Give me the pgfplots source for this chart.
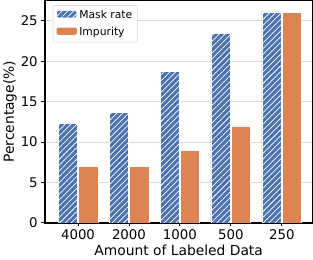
\documentclass[border=0pt]{standalone}
\usepackage{pgfplots}
\pgfplotsset{compat=1.18}
\usepackage{fontspec}
\setmainfont{DejaVu Sans}
\usetikzlibrary{patterns.meta}
\definecolor{sblue}{HTML}{4C72B0}
\definecolor{sorange}{HTML}{DD8452}
\begin{document}
\begin{tikzpicture}
\begin{axis}[
  scale only axis,
  width=260bp, height=216bp,
  xmin=-0.65, xmax=4.6,
  ymin=0, ymax=27.5,
  xtick=data,
  xticklabels={4000,2000,1000,500,250},
  ytick={0,5,10,15,20,25},
  /pgf/number format/assume math mode=true,
  ticklabel style={font=\fontsize{13}{15}\selectfont},
  label style={font=\fontsize{13.5}{15}\selectfont},
  xlabel={Amount of Labeled Data},
  ylabel={Percentage(\%)},
  xlabel style={yshift=2pt},
  ylabel style={yshift=-3pt},
  axis line style={black, line width=1.3pt},
  tick style={black, line width=0.8pt},
  tick align=outside,
  major tick length=3.5pt,
  xtick pos=bottom, ytick pos=left,
  ymajorgrids,
  grid style={gray!30, line width=0.8pt},
  ybar=1bp,
  bar width=0.38,
  legend style={at={(0.03,0.98)}, anchor=north west, draw=gray!35, rounded corners=2pt,
    font=\fontsize{10.5}{12}\selectfont, cells={anchor=west, inner xsep=4pt}, row sep=3pt, inner sep=3pt},
  legend image code/.code={\draw[#1, draw=none] (0cm,-0.09cm) rectangle (0.7cm,0.16cm);},
]
\addplot[fill=sblue, draw=white, line width=0.6pt, postaction={pattern={Lines[angle=45, distance=4bp, line width=0.7bp]}, pattern color=white}]
  coordinates {(0,12.3) (1,13.7) (2,18.7) (3,23.4) (4,26.1)};
\addlegendentry{Mask rate}
\addplot[fill=sorange, draw=white, line width=0.6pt]
  coordinates {(0,7) (1,7) (2,9) (3,12) (4,26)};
\addlegendentry{Impurity}
\end{axis}
\end{tikzpicture}
\end{document}
